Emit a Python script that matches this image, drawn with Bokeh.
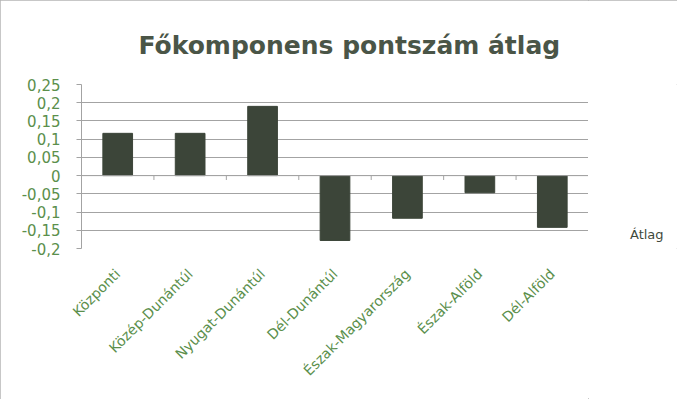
from bokeh.plotting import figure
from bokeh.layouts import row
from bokeh.models import (ColumnDataSource, FixedTicker, Span, Legend, LegendItem, Range1d)
from bokeh.transform import dodge
from bokeh.embed import file_html
from bokeh.resources import INLINE
import math

# ---- data ----
categories = ["Központi", "Közép-Dunántúl", "Nyugat-Dunántúl", "Dél-Dunántúl",
              "Észak-Magyarország", "Észak-Alföld", "Dél-Alföld"]
atlag = [0.116, 0.116, 0.19, -0.178, -0.117, -0.047, -0.142]
y_ticks = [-0.2, -0.15, -0.1, -0.05, 0, 0.05, 0.1, 0.15, 0.2, 0.25]
y_tick_labels = ["-0,2", "-0,15", "-0,1", "-0,05", "0", "0,05", "0,1", "0,15", "0,2", "0,25"]
title_text = "Főkomponens pontszám átlag"
series_name = "Átlag"

BAR = "#3c4539"
GRID = "#a3a3a3"
TICKTXT = "#5b8f4c"
FONT = "DejaVu Sans"

src = ColumnDataSource(dict(cat=categories, val=atlag))

p = figure(x_range=categories, y_range=Range1d(-0.2, 0.25),
           width=588, height=399, output_backend="svg", toolbar_location=None,
           min_border_left=81, min_border_right=0, min_border_top=84, min_border_bottom=151)

p.title.text = title_text
p.title.text_font = FONT
p.title.text_font_size = "25px"
p.title.text_font_style = "bold"
p.title.text_color = "#4a5547"
p.title.align = "left"
p.title.offset = 57
p.title.standoff = 50

p.outline_line_color = None
p.background_fill_color = "white"
p.border_fill_color = "white"

r = p.vbar(x="cat", top="val", bottom=0, width=0.41, source=src,
           fill_color=BAR, line_color=BAR)

# y axis
p.yaxis.ticker = FixedTicker(ticks=y_ticks)
p.yaxis.major_label_overrides = {t: l for t, l in zip(y_ticks, y_tick_labels)}
p.yaxis.minor_tick_line_color = None
p.yaxis.major_tick_in = 0
p.yaxis.major_tick_out = 5
p.yaxis.major_tick_line_color = GRID
p.yaxis.axis_line_color = GRID
p.yaxis.major_label_text_font = FONT
p.yaxis.major_label_text_font_size = "15px"
p.yaxis.major_label_text_color = TICKTXT
p.yaxis.major_label_standoff = 16

p.ygrid.grid_line_color = GRID
p.ygrid.ticker = FixedTicker(ticks=y_ticks)
p.xgrid.grid_line_color = None

# x axis (labels at the bottom, line at zero)
p.xaxis.axis_line_color = None
p.xaxis.major_tick_line_color = None
p.xaxis.major_label_orientation = math.pi / 4
p.xaxis.major_label_text_font = FONT
p.xaxis.major_label_text_font_size = "14px"
p.xaxis.major_label_text_color = TICKTXT
p.xaxis.major_label_standoff = 17

p.add_layout(Span(location=0, dimension="width", line_color=GRID, line_width=1))

# category boundary ticks on the zero line
tick_src = ColumnDataSource(dict(cat=categories, y0=[0] * len(categories),
                                 y1=[-0.012] * len(categories)))
p.segment(x0=dodge("cat", -0.5, range=p.x_range), x1=dodge("cat", -0.5, range=p.x_range),
          y0="y0", y1="y1", source=tick_src, line_color=GRID)
end_src = ColumnDataSource(dict(cat=categories[-1:], y0=[0], y1=[-0.012]))
p.segment(x0=dodge("cat", 0.5, range=p.x_range), x1=dodge("cat", 0.5, range=p.x_range),
          y0="y0", y1="y1", source=end_src, line_color=GRID)

# legend panel to the right of the plot area (its frame is aligned with the main frame)
pl = figure(width=89, height=399, output_backend="svg", toolbar_location=None,
            x_axis_type=None, y_axis_type=None, x_range=Range1d(0, 1), y_range=Range1d(0, 1),
            min_border_left=0, min_border_right=0, min_border_top=0, min_border_bottom=0)
pl.outline_line_color = None
pl.grid.grid_line_color = None
pl.background_fill_color = "white"
pl.border_fill_color = "white"
key_src = ColumnDataSource(dict(x=[], top=[]))
key = pl.vbar(x="x", top="top", width=0.41, source=key_src, fill_color=BAR, line_color=BAR)

legend = Legend(items=[LegendItem(label=series_name, renderers=[key])],
                location=(31, 6), border_line_color=None, background_fill_alpha=0,
                glyph_width=7, glyph_height=7, label_standoff=4, padding=0, margin=0,
                label_text_font=FONT, label_text_font_size="13px",
                label_text_color="#3f4a3c")
pl.add_layout(legend, "center")

lay = row(p, pl)
lay.styles = {"outline": "1px solid #b4b4b4", "outline-offset": "-1px"}

open("out.html", "w").write(file_html(lay, INLINE))
